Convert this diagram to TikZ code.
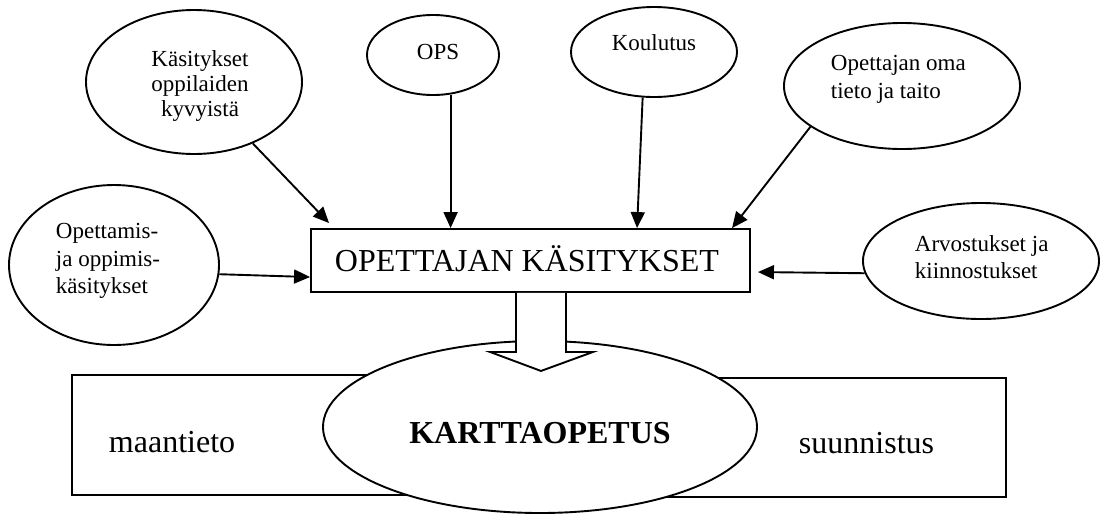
\documentclass[tikz,border=0pt]{standalone}
\usepackage{fontspec}
\setmainfont{Liberation Serif}
\usetikzlibrary{shapes.geometric,arrows.meta,calc}
\begin{document}
\begin{tikzpicture}[x=1pt,y=-1pt,
  line width=1.9pt,
  bubble/.style 2 args={draw, ellipse, inner sep=0pt, minimum width=#1pt, minimum height=#2pt},
  panel/.style 2 args={draw, rectangle, inner sep=0pt, minimum width=#1pt, minimum height=#2pt},
  arr/.style={-{Triangle[length=16pt,width=14pt]}},
  small/.style={font=\fontsize{23}{28}\selectfont, inner sep=0pt},
  big/.style={font=\fontsize{32}{38}\selectfont, inner sep=0pt},
]
\useasboundingbox (0,0) rectangle (1103,515);

% lower panels with the central ellipse laid over them
\node[panel={468}{120}] (maa) at (306,435) {};
\node[panel={466}{119}] (suu) at (773,437.5) {};
\node[bubble={434}{172}, fill=white] (kart) at (540,427) {};

% central box and the wide hollow arrow down into the ellipse
\node[panel={439}{63}] (box) at (530.5,260.5) {};
\draw[fill=white, shift={($(box.south)+(10.5,0)$)}]
  (-25,0) -- (-25,59) -- (-51,59) -- (0,78) -- (52,59) -- (25,59) -- (25,0);

% surrounding ellipses
\node[bubble={216}{144}] (kas) at (194,82) {};
\node[bubble={132}{80}]  (ops) at (433,55) {};
\node[bubble={166}{90}]  (kou) at (654,52) {};
\node[bubble={236}{126}] (oma) at (902,86) {};
\node[bubble={210}{160}] (opm) at (114,265) {};
\node[bubble={236}{116}] (arv) at (981,261) {};

% arrows into the box
\draw[arr] (kas) -- ($(box.north west)+(19,-5)$);
\draw[arr] (ops.-66) -- (ops.-66 |- box.north);
\draw[arr] (kou.-104) -- ($(box.north west)+(327,0)$);
\draw[arr] (oma.-156.5) -- ($(box.north west)+(422,0)$);
\draw[arr] (opm.-5) -- ($(box.north west)+(0,49)$);
\draw[arr] (arv.186.3) -- ($(box.north east)+(7,44)$);

% texts
\node[small, anchor=base] (kas1) at (200,66) {Käsitykset};
\node[small, anchor=base] (kas2) at (200,91) {oppilaiden};
\node[small, anchor=base] (kas3) at (200,116) {kyvyistä};
\node[small, anchor=base] (opst) at (438,59) {OPS};
\node[small, anchor=base] (kout) at (654,50) {Koulutus};
\node[small, anchor=base west] (oma1) at (830,70) {Opettajan oma};
\node[small, anchor=base west] (oma2) at (830,98) {tieto ja taito};
\node[small, anchor=base west] (opm1) at (55,238) {Opettamis-};
\node[small, anchor=base west] (opm2) at (55,266) {ja oppimis-};
\node[small, anchor=base west] (opm3) at (55,293) {käsitykset};
\node[small, anchor=base west] (arv1) at (914,251) {Arvostukset ja};
\node[small, anchor=base west] (arv2) at (914,278) {kiinnostukset};
\node[big, anchor=base] (boxt) at (527,271) {OPETTAJAN KÄSITYKSET};
\node[big, anchor=base west] (maat) at (108,452) {maantieto};
\node[big, anchor=base, font=\fontsize{32}{38}\selectfont\bfseries] (kartt) at (540,443) {KARTTAOPETUS};
\node[big, anchor=base west] (suut) at (798,453) {suunnistus};
\end{tikzpicture}
\end{document}
